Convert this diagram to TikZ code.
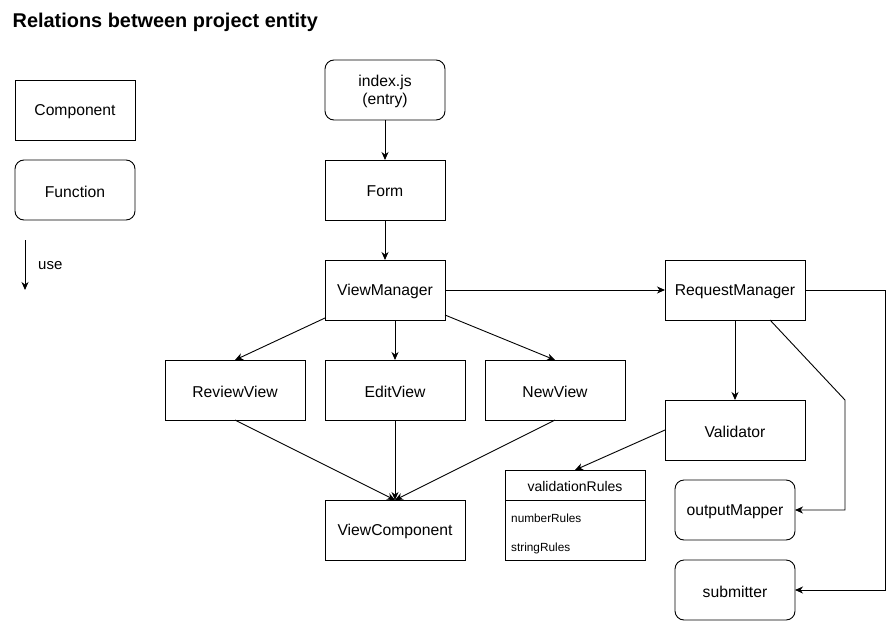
\documentclass[tikz,border=0pt]{standalone}
\usepackage{fontspec}
\setmainfont{Liberation Sans}
\usetikzlibrary{arrows.meta,calc}
\begin{document}
\begin{tikzpicture}[x=1pt,y=-1pt,
  comp/.style={draw,line width=0.9pt,minimum width=120pt,minimum height=60pt,inner sep=0pt,outer sep=0pt,font=\fontsize{15.7}{18}\selectfont,align=center},
  wide/.style={comp,minimum width=140pt},
  func/.style={comp,rounded corners=9pt},
  use/.style={draw,line width=0.9pt,-{Stealth[length=8pt,width=7pt,inset=2.5pt]}},
  lbl/.style={inner sep=0pt,yshift=-1.5pt,font=\fontsize{15.7}{18}\selectfont}
]
\useasboundingbox (0,0) rectangle (894,621);
\fill[white] (0,0) rectangle (894,621);
\node[anchor=west,inner sep=0pt,font=\bfseries\fontsize{19.9}{22}\selectfont] (title) at (12.5,22.5) {Relations between project entity};
% legend
\node[comp] (lc) at (75,110) {};
\node[lbl] (lct) at (lc) {Component};
\node[func] (lf) at (75,190) {};
\node[lbl] (lft) at (lf) {Function};
\coordinate (ua) at (25,240);
\coordinate (ub) at (25,290);
\draw[use] (ua) -- (ub);
\node[anchor=west,inner sep=0pt,font=\fontsize{15}{17}\selectfont] (ul) at (38,266) {use};
% main
\node[func] (idx) at (385,90) {};
\node[lbl,align=center] (idxt) at (idx) {index.js\\(entry)};
\node[comp] (form) at (385,190) {};
\node[lbl] (formt) at (form) {Form};
\node[comp] (vm) at (385,290) {};
\node[lbl] (vmt) at (vm) {ViewManager};
\node[wide] (rm) at (735,290) {};
\node[lbl] (rmt) at (rm) {RequestManager};
\node[wide] (rv) at (235,390) {};
\node[lbl] (rvt) at (rv) {ReviewView};
\node[wide] (ev) at (395,390) {};
\node[lbl] (evt) at (ev) {EditView};
\node[wide] (nv) at (555,390) {};
\node[lbl] (nvt) at (nv) {NewView};
\node[wide] (vc) at (395,530) {};
\node[lbl] (vct) at (vc) {ViewComponent};
\node[wide] (val) at (735,430) {};
\node[lbl] (valt) at (val) {Validator};
\node[func] (om) at (735,510) {};
\node[lbl] (omt) at (om) {outputMapper};
\node[func] (sm) at (735,590) {};
\node[lbl] (smt) at (sm) {submitter};
% validationRules
\node[draw,line width=0.9pt,minimum width=140pt,minimum height=90pt,inner sep=0pt,outer sep=0pt] (vr) at (575,515) {};
\coordinate (hl) at (505,500);
\coordinate (hr) at (645,500);
\draw[line width=0.9pt] (hl) -- (hr);
\node[inner sep=0pt,yshift=-1pt,font=\fontsize{14}{16}\selectfont] (vrh) at (575,485) {validationRules};
\node[anchor=west,inner sep=0pt,font=\fontsize{11.8}{13}\selectfont] (nr) at (511,518) {numberRules};
\node[anchor=west,inner sep=0pt,font=\fontsize{11.8}{13}\selectfont] (sr) at (511,548) {stringRules};
% connectors
\draw[use] (idx) -- (form);
\draw[use] (form) -- (vm);
\draw[use] (vm) -- (rm);
\draw[use] ($(vm.south west)+(0,-2)$) -- (rv.north);
\draw[use] (vm.south -| ev.north) -- (ev.north);
\draw[use] ($(vm.south east)+(0,-5)$) -- (nv.north);
\draw[use] (rv.south) -- (vc.north);
\draw[use] (ev.south) -- (vc.north);
\draw[use] (nv.south) -- (vc.north);
\draw[use] (rm) -- (val);
\draw[use] (val.west) -- (vr.north);
\coordinate (rs) at ($(rm.south)!0.5!(rm.south east)$);
\coordinate (k1) at (845,400);
\coordinate (k2) at (845,510);
\draw[use] (rs) -- (k1) -- (k2) -- (om.east);
\coordinate (k3) at (885,290);
\coordinate (k4) at (885,590);
\draw[use] (rm.east) -- (k3) -- (k4) -- (sm.east);
\end{tikzpicture}
\end{document}
